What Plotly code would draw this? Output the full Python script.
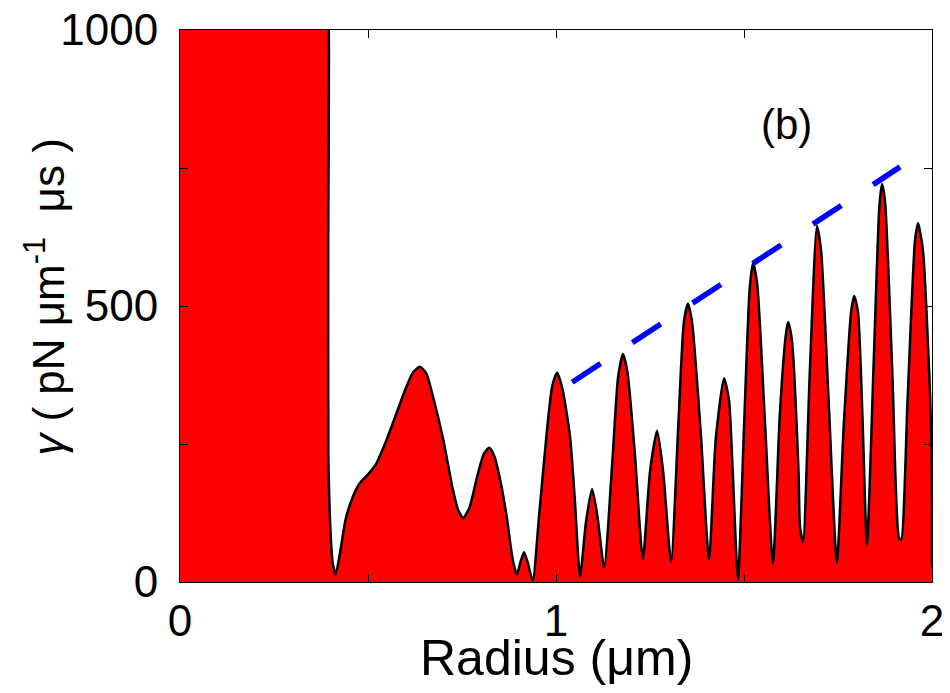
import plotly.graph_objects as go

# gamma vs radius (clipped above 1000 for r < 0.394)
radius = [0, 0.393, 0.394, 0.3942, 0.3945, 0.397, 0.401, 0.406, 0.414, 0.425, 0.44, 0.46, 0.479, 0.50, 0.52,
          0.545, 0.57, 0.60, 0.62, 0.638, 0.655, 0.675, 0.70, 0.725, 0.74, 0.753, 0.77,
          0.79, 0.808, 0.822, 0.836, 0.85, 0.869, 0.885, 0.896, 0.905, 0.915, 0.925, 0.938,
          0.955, 0.976, 0.99, 1.003, 1.017, 1.037, 1.05, 1.064, 1.08, 1.096, 1.11, 1.128,
          1.15, 1.165, 1.178, 1.19, 1.21, 1.231, 1.25, 1.269, 1.285, 1.306, 1.325, 1.34,
          1.351, 1.362, 1.385, 1.407, 1.425, 1.447, 1.46, 1.47, 1.484, 1.50, 1.515, 1.524,
          1.535, 1.555, 1.577, 1.595, 1.61, 1.617, 1.627, 1.645, 1.649, 1.657, 1.675, 1.694,
          1.705, 1.725, 1.747, 1.765, 1.785, 1.793, 1.803, 1.815, 1.827, 1.845, 1.86, 1.867,
          1.875, 1.895, 1.912, 1.918, 1.935, 1.955, 1.963, 1.976, 1.99, 1.999, 2.0]
gamma = [1100, 1100, 1100, 600, 230, 150, 80, 35, 14, 50, 112, 155, 180, 195, 212,
         250, 295, 350, 380, 390, 378, 330, 258, 170, 130, 116, 135,
         190, 232, 243, 228, 190, 118, 40, 14, 35, 54, 35, 2,
         120, 275, 355, 379, 350, 265, 150, 10, 110, 168, 120, 27,
         220, 370, 413, 380, 230, 42, 200, 274, 200, 36, 280, 470,
         504, 470, 270, 40, 260, 369, 330, 200, 4, 280, 530, 578,
         540, 300, 34, 300, 440, 471, 440, 200, 100, 72, 380, 645,
         600, 330, 36, 280, 490, 518, 490, 300, 67, 400, 680, 721,
         690, 370, 80, 76, 330, 620, 650, 600, 420, 240, 27]

# envelope (blue dashed)
env_x = [1.043, 1.915]
env_y = [362, 752]

x_ticks = [0, 0.5, 1, 1.5, 2]
x_labels = ["0", "", "1", "", "2"]
y_ticks = [0, 250, 500, 750, 1000]
y_labels = ["0", "", "500", "", "1000"]

FONT = "Arial, Liberation Sans, Helvetica, sans-serif"

fig = go.Figure()
fig.add_trace(go.Scatter(x=radius, y=gamma, mode="lines", fill="tozeroy",
                         fillcolor="#ff0000",
                         line=dict(color="black", width=2.5, shape="spline", smoothing=0.6),
                         showlegend=False))
fig.add_trace(go.Scatter(x=env_x, y=env_y, mode="lines",
                         line=dict(color="#0000ff", width=5.5, dash="34px,38px"),
                         showlegend=False))

fig.update_layout(
    width=950, height=693,
    margin=dict(l=172, r=26, t=22, b=119),
    paper_bgcolor="white", plot_bgcolor="white",
    font=dict(family=FONT, color="black", size=42),
    xaxis=dict(range=[0, 2], tickvals=x_ticks, ticktext=x_labels, ticks="inside",
               ticklen=8, tickcolor="black", showline=True, linecolor="black", linewidth=1,
               mirror="ticks", showgrid=False, zeroline=False, automargin=False,
               tickfont=dict(size=44), ticklabelstandoff=0, ticklabeloverflow="allow"),
    yaxis=dict(range=[0, 1000], tickvals=y_ticks, ticktext=y_labels, ticks="inside",
               ticklen=8, tickcolor="black", showline=True, linecolor="black", linewidth=1,
               mirror="ticks", showgrid=False, zeroline=False, automargin=False,
               tickfont=dict(size=44), ticklabelstandoff=12, ticklabeloverflow="allow"),
    annotations=[
        dict(text="Radius (μm)", xref="paper", yref="paper", x=0.5, y=-0.137,
             xanchor="center", yanchor="middle", showarrow=False, font=dict(size=50)),
        dict(text="<i>γ</i> ( pN μm<sup>-1</sup>  μs )", xref="paper", yref="paper",
             x=-0.18, y=0.516, xanchor="center", yanchor="middle", textangle=-90,
             showarrow=False, font=dict(size=44)),
        dict(text="(b)", xref="x", yref="y", x=1.612, y=828, xanchor="center",
             yanchor="middle", showarrow=False, font=dict(size=42)),
    ],
)

fig.write_html("out.html")
